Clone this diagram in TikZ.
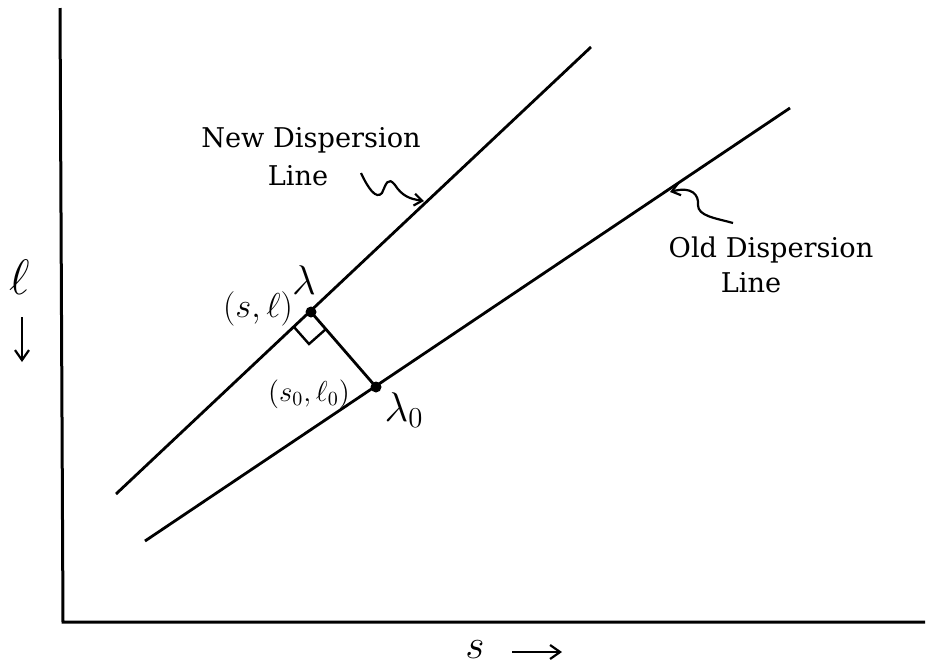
\documentclass[tikz,border=0pt]{standalone}
\usepackage{fontspec}
\setmainfont{DejaVu Serif}
\usetikzlibrary{arrows.meta}
\begin{document}
\begin{tikzpicture}[x=0.5pt,y=-0.5pt,
  ln/.style={line width=1.4pt},
  axis/.style={line width=1.5pt},
  dotn/.style={circle,fill=black,inner sep=0pt,minimum size=5.5pt},
  lbl/.style={font=\fontsize{13.6}{15}\selectfont,anchor=base,inner sep=0pt},
  hand/.style={inner sep=0pt},
  squig/.style={line width=1.1pt,-{Straight Barb[length=4pt,width=6pt]}}]
\useasboundingbox (0,0) rectangle (927,670);
% axes
\coordinate (top) at (60,8);
\coordinate (orig) at (63,622);
\coordinate (right) at (925,622);
\draw[axis] (top) -- (orig) -- (right);
% lines
\coordinate (N1) at (116,494);
\coordinate (N2) at (591,47);
\coordinate (O1) at (145,541);
\coordinate (O2) at (790,108);
\draw[ln] (N1) -- (N2);
\draw[ln] (O1) -- (O2);
% points
\node[dotn] (L) at (311,312) {};
\node[dotn] (L0) at (376,387) {};
\draw[ln] (L.center) -- (L0.center);
% right angle
\coordinate (A) at (294,327);
\coordinate (B) at (309,344);
\coordinate (C) at (326,329);
\draw[line width=1.2pt] (A) -- (B) -- (C);
% labels
\node[lbl] (new1) at (311,147) {New Dispersion};
\node[lbl] (new2) at (298,185) {Line};
\node[lbl] (old1) at (771,257) {Old Dispersion};
\node[lbl] (old2) at (751,292) {Line};
% squiggle arrows
\coordinate (nt) at (424,201);
\draw[squig] (361,173) .. controls (368,188) and (376,200) .. (382,193)
  .. controls (386,184) and (388,176) .. (395,185)
  .. controls (402,196) and (410,199) .. (nt);
\coordinate (ot) at (670,192);
\draw[squig] (733,223) .. controls (715,218) and (698,216) .. (698,205)
  .. controls (699,195) and (692,186) .. (ot);
% math labels
\node[hand,font=\fontsize{22}{22}\selectfont] (lam) at (304,280) {$\lambda$};
\node[hand,font=\fontsize{17}{17}\selectfont] (sl) at (258,309) {$(s,\ell)$};
\node[hand,font=\fontsize{14}{14}\selectfont] (sl0) at (309,394) {$(s_0,\ell_0)$};
\node[hand,font=\fontsize{22}{22}\selectfont] (lam0) at (404,410) {$\lambda_0$};
\node[hand,font=\fontsize{24}{24}\selectfont] (ell) at (20,277) {$\ell$};
\coordinate (da1) at (22,317);
\coordinate (da2) at (22,362);
\draw[line width=1.1pt,-{Straight Barb[length=5pt,width=7pt]}] (da1) -- (da2);
\node[hand,font=\fontsize{20}{20}\selectfont] (sx) at (475,650) {$s$};
\coordinate (ra1) at (512,652);
\coordinate (ra2) at (562,652);
\draw[line width=1.1pt,-{Straight Barb[length=5pt,width=7pt]}] (ra1) -- (ra2);
\end{tikzpicture}
\end{document}
